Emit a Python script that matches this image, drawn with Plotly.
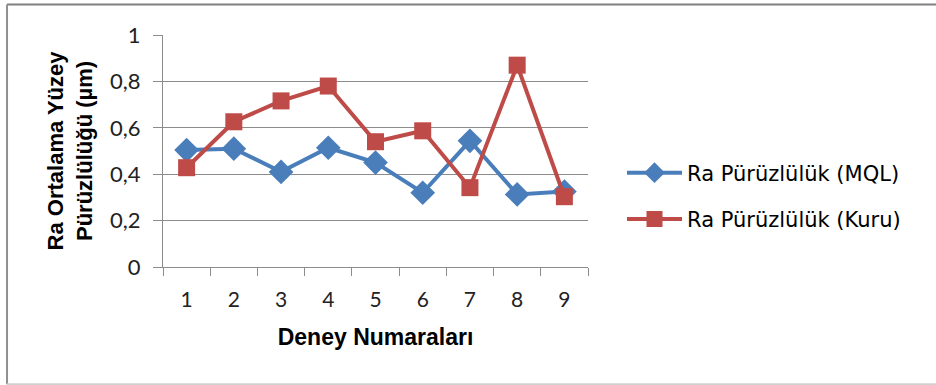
import plotly.graph_objects as go

# Experiment numbers and measured Ra roughness values
deney = ["1", "2", "3", "4", "5", "6", "7", "8", "9"]
ra_mql = [0.504, 0.51, 0.41, 0.514, 0.45, 0.32, 0.544, 0.313, 0.325]
ra_kuru = [0.428, 0.626, 0.716, 0.78, 0.54, 0.587, 0.342, 0.87, 0.303]
y_ticks = [0, 0.2, 0.4, 0.6, 0.8, 1]

BLUE = "#4A7EBB"
RED = "#BE4B48"
GRID = "#8c8c8c"
TEXT_FONT = "DejaVu Sans, Liberation Sans, Arial, sans-serif"
TICK_FONT = "Lato, sans-serif"

fig = go.Figure()
fig.add_trace(go.Scatter(
    x=deney, y=ra_mql, mode="lines+markers", name="Ra Pürüzlülük (MQL)",
    legendgroup="mql",
    line=dict(color=BLUE, width=4),
    marker=dict(symbol="diamond", size=19, color=BLUE),
))
fig.add_trace(go.Scatter(
    x=deney, y=ra_kuru, mode="lines+markers", name="Ra Pürüzlülük (Kuru)",
    legendgroup="kuru",
    line=dict(color=RED, width=4),
    marker=dict(symbol="square", size=17, color=RED),
))

fig.update_layout(
    width=936, height=385,
    margin=dict(l=163, r=348, t=35, b=118),
    paper_bgcolor="white", plot_bgcolor="white",
    separators=",.",
    font=dict(family=TEXT_FONT, color="#000000"),
    showlegend=True,
    legend=dict(
        x=1.08, y=0.306, xanchor="left", yanchor="middle",
        font=dict(size=21, family=TEXT_FONT),
        traceorder="grouped", tracegroupgap=16,
        itemwidth=55,
    ),
    xaxis=dict(
        type="category", tickson="boundaries", range=[-0.5, 8.5],
        showline=True, linecolor=GRID, linewidth=1,
        ticks="outside", ticklen=8, tickcolor=GRID,
        showgrid=False, zeroline=False,
        tickfont=dict(family=TICK_FONT, size=21, color="#222"),
        ticklabelstandoff=14,
        title=dict(text="<b>Deney Numaraları</b>",
                   font=dict(size=23, family="Liberation Sans, Arial, sans-serif"),
                   standoff=18),
    ),
    yaxis=dict(
        range=[0, 1], tickvals=y_ticks,
        showline=True, linecolor=GRID, linewidth=1,
        ticks="outside", ticklen=9, tickcolor=GRID,
        showgrid=True, gridcolor=GRID, gridwidth=1, zeroline=False,
        tickfont=dict(family=TICK_FONT, size=22, color="#222"),
        ticklabelstandoff=8,
    ),
)

# Vertical two-line axis title
fig.add_annotation(
    text="<b>Ra Ortalama Yüzey<br>Pürüzlülüğü (µm)</b>",
    xref="paper", yref="paper", x=-0.218, y=0.504,
    xanchor="center", yanchor="middle", textangle=-90, showarrow=False,
    font=dict(size=22, family="Liberation Sans, Arial, sans-serif"),
)

# Chart frame
fig.add_shape(type="line", xref="paper", yref="paper",
              x0=-0.367, x1=1.85, y0=1.131, y1=1.131,
              line=dict(color="#808080", width=2))
fig.add_shape(type="line", xref="paper", yref="paper",
              x0=-0.367, x1=-0.367, y0=1.131, y1=-0.505,
              line=dict(color="#909090", width=2))
fig.add_shape(type="line", xref="paper", yref="paper",
              x0=-0.367, x1=1.85, y0=-0.505, y1=-0.505,
              line=dict(color="#d0d0d0", width=2))

fig.write_html("out.html")
